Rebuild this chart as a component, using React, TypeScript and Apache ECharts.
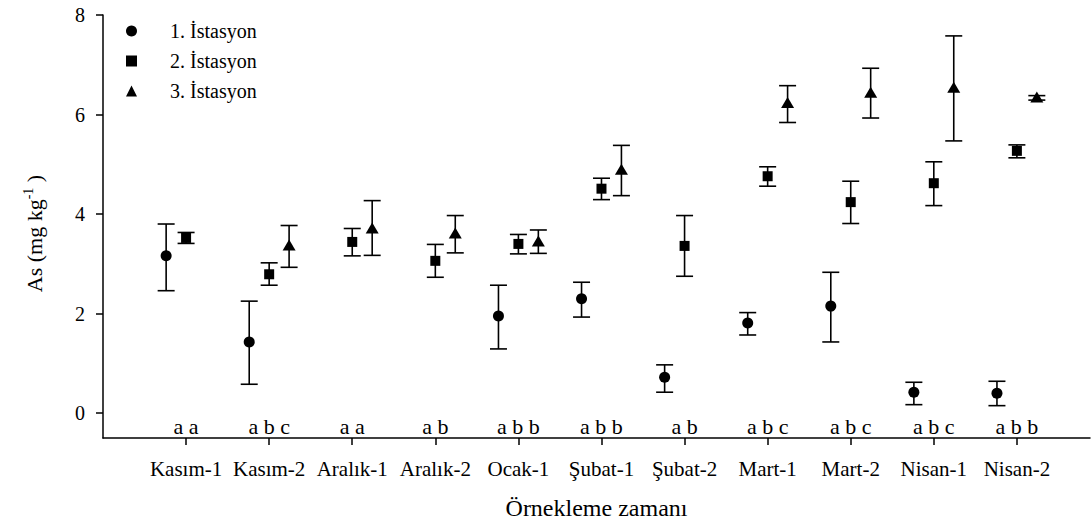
import React, { useEffect, useRef } from "react";
import * as echarts from "echarts";

const categories = ["Kasım-1", "Kasım-2", "Aralık-1", "Aralık-2", "Ocak-1", "Şubat-1", "Şubat-2", "Mart-1", "Mart-2", "Nisan-1", "Nisan-2"];

const seriesNames = ["1. İstasyon", "2. İstasyon", "3. İstasyon"];

const station1Mean = [3.16, 1.43, null, null, 1.95, 2.3, 0.72, 1.81, 2.15, 0.42, 0.4];
const station1Low = [2.46, 0.58, null, null, 1.29, 1.93, 0.42, 1.57, 1.43, 0.17, 0.15];
const station1High = [3.8, 2.25, null, null, 2.57, 2.63, 0.97, 2.02, 2.83, 0.62, 0.64];

const station2Mean = [3.52, 2.79, 3.44, 3.06, 3.4, 4.51, 3.36, 4.76, 4.24, 4.62, 5.27];
const station2Low = [3.41, 2.57, 3.16, 2.73, 3.2, 4.29, 2.75, 4.56, 3.81, 4.17, 5.13];
const station2High = [3.63, 3.02, 3.71, 3.39, 3.59, 4.72, 3.97, 4.95, 4.66, 5.05, 5.39];

const station3Mean = [null, 3.38, 3.72, 3.62, 3.46, 4.9, null, 6.24, 6.45, 6.55, 6.35];
const station3Low = [null, 2.93, 3.17, 3.22, 3.21, 4.37, null, 5.84, 5.93, 5.47, 6.29];
const station3High = [null, 3.77, 4.27, 3.97, 3.68, 5.38, null, 6.58, 6.93, 7.58, 6.38];

const letters = ["a a", "a b c", "a a", "a b", "a b b", "a b b", "a b", "a b c", "a b c", "a b c", "a b b"];

const yTicks = [0, 2, 4, 6, 8];

const FONT = "'Liberation Serif', 'Times New Roman', serif";

export default function App() {
  const ref = useRef<HTMLDivElement>(null);

  useEffect(() => {
    document.body.style.margin = "0";
    if (!ref.current) return;
    const chart = echarts.init(ref.current, undefined, { renderer: "svg" });

    const stations = [
      { mean: station1Mean, low: station1Low, high: station1High, off: -0.24, symbol: "circle", size: 11 },
      { mean: station2Mean, low: station2Low, high: station2High, off: 0, symbol: "rect", size: 10 },
      { mean: station3Mean, low: station3Low, high: station3High, off: 0.24, symbol: "triangle", size: [13, 11] },
    ];

    const series: any[] = [];
    stations.forEach((st, s) => {
      const errData: any[] = [];
      const ptData: any[] = [];
      categories.forEach((_, i) => {
        const m = st.mean[i];
        if (m == null) return;
        errData.push([i + st.off, st.low[i], st.high[i]]);
        ptData.push([i + st.off, m]);
      });
      series.push({
        type: "custom",
        name: seriesNames[s] + " hata",
        data: errData,
        encode: { x: 0, y: [1, 2] },
        z: 2,
        renderItem: (params: any, api: any) => {
          const x = api.value(0);
          const pLo = api.coord([x, api.value(1)]);
          const pHi = api.coord([x, api.value(2)]);
          const hw = 8.5;
          const st2 = { stroke: "#000", lineWidth: 1.6 };
          return {
            type: "group",
            children: [
              { type: "line", shape: { x1: pLo[0], y1: pLo[1], x2: pHi[0], y2: pHi[1] }, style: st2 },
              { type: "line", shape: { x1: pLo[0] - hw, y1: pLo[1], x2: pLo[0] + hw, y2: pLo[1] }, style: st2 },
              { type: "line", shape: { x1: pHi[0] - hw, y1: pHi[1], x2: pHi[0] + hw, y2: pHi[1] }, style: st2 },
            ],
          };
        },
      });
      series.push({
        type: "scatter",
        name: seriesNames[s],
        data: ptData,
        symbol: st.symbol,
        symbolSize: st.size,
        itemStyle: { color: "#000", opacity: 1 },
        z: 3,
      });
    });

    series.push({
      type: "custom",
      name: "harfler",
      data: letters.map((t, i) => [i, -0.26, t]),
      encode: { x: 0, y: 1 },
      renderItem: (params: any, api: any) => {
        const p = api.coord([api.value(0), api.value(1)]);
        return {
          type: "text",
          x: p[0],
          y: p[1],
          style: {
            text: letters[params.dataIndex],
            textAlign: "center",
            textVerticalAlign: "middle",
            fontSize: 22,
            fontFamily: FONT,
            fill: "#000",
          },
        };
      },
    });

    const option: any = {
      animation: false,
      backgroundColor: "#fff",
      textStyle: { fontFamily: FONT, color: "#000" },
      grid: { left: 103, right: 2, top: 15, bottom: 94, containLabel: false },
      legend: {
        data: seriesNames,
        orient: "vertical",
        left: 121,
        top: 15,
        itemWidth: 11,
        itemHeight: 11,
        itemGap: 8,
        textStyle: { fontSize: 20, fontFamily: FONT, color: "#000", padding: [0, 0, 0, 28], lineHeight: 22 },
      },
      xAxis: {
        type: "value",
        min: -1,
        max: 10.88,
        name: "Örnekleme zamanı",
        nameLocation: "middle",
        nameGap: 58,
        nameTextStyle: { fontSize: 24, fontFamily: FONT, color: "#000" },
        axisLine: { show: true, onZero: false, lineStyle: { color: "#000", width: 1.5 } },
        axisTick: { show: true, customValues: categories.map((_, i) => i), length: 7, lineStyle: { color: "#000", width: 1.5 } },
        axisLabel: {
          customValues: categories.map((_, i) => i),
          formatter: (v: number) => categories[Math.round(v)] ?? "",
          fontSize: 21,
          fontFamily: FONT,
          color: "#000",
          margin: 20,
        },
        splitLine: { show: false },
      },
      yAxis: {
        type: "value",
        min: -0.5,
        max: 8,
        name: "{a|As (mg kg}{s|-1}{a| )}",
        nameLocation: "middle",
        nameGap: 56,
        nameRotate: 90,
        nameTextStyle: {
          color: "#000",
          padding: [0, 14, 0, 0],
          rich: {
            a: { fontSize: 22, fontFamily: FONT, color: "#000" },
            s: { fontSize: 14, fontFamily: FONT, color: "#000", padding: [0, 0, 12, 0] },
          },
        },
        axisLine: { show: true, onZero: false, lineStyle: { color: "#000", width: 1.5 } },
        axisTick: { show: true, customValues: yTicks, length: 7, lineStyle: { color: "#000", width: 1.5 } },
        axisLabel: { customValues: yTicks, fontSize: 20, fontFamily: FONT, color: "#000", margin: 18 },
        splitLine: { show: false },
      },
      series,
    };

    chart.setOption(option);
    return () => chart.dispose();
  }, []);

  return <div ref={ref} style={{ width: 1092, height: 532 }} />;
}
